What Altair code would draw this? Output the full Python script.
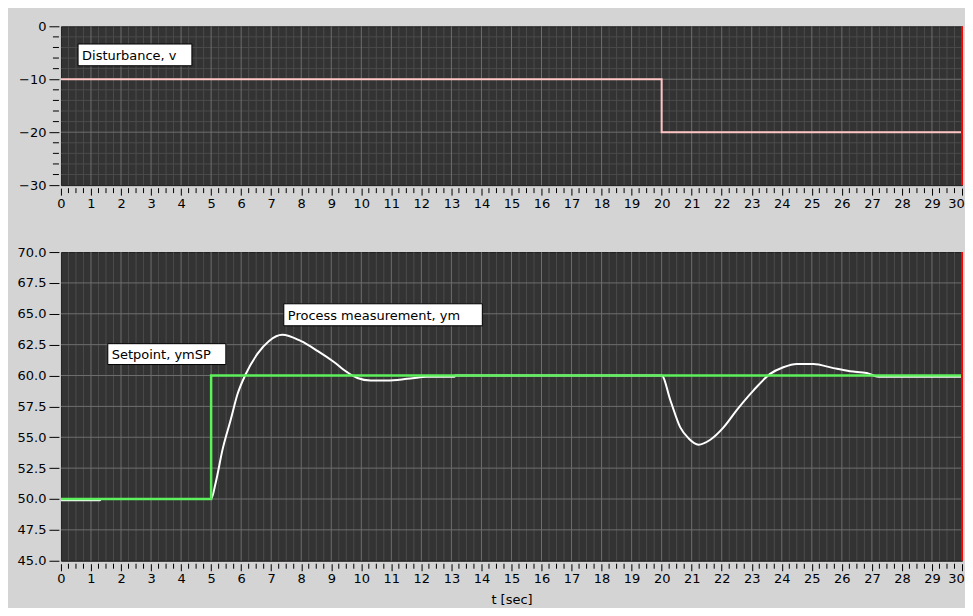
import altair as alt
import pandas as pd

# ---------------- data ----------------
dist_t = [0, 20, 20, 30]
dist_v = [-10, -10, -20, -20]

sp_t = [0, 5, 5, 30]
sp_v = [50, 50, 60, 60]

ym_t = [0, 1.3, 1.33, 5.0, 5.15, 5.38, 5.65, 5.88, 6.15, 6.54, 6.93, 7.37, 7.98, 8.54,
        9.09, 9.53, 9.87, 10.31, 10.86, 11.53, 12.19, 13.1, 13.13, 20.0, 20.29, 20.62,
        20.9, 21.23, 21.62, 22.06, 22.5, 23.06, 23.61, 24.05, 24.5, 25.05, 25.72, 26.27,
        26.83, 27.22, 30]
ym_v = [49.9, 49.9, 50.0, 50.0, 51.3, 54.0, 56.4, 58.5, 60.1, 61.75, 62.8, 63.3, 62.8, 62.0,
        61.1, 60.27, 59.8, 59.6, 59.6, 59.73, 59.9, 59.9, 60.0, 60.0, 58.0, 55.8,
        54.9, 54.4, 54.8, 55.8, 57.2, 58.8, 60.13, 60.67, 60.94, 60.94, 60.6, 60.35,
        60.2, 59.9, 59.9]

x_major = list(range(0, 31))
x_minor = [i / 4 for i in range(0, 121) if i % 4]
x_major_grid = list(range(1, 30))

top_major = [0, -10, -20, -30]
top_minor = [v for v in range(-28, 0, 2) if v % 10]
top_major_grid = [-10, -20]

bot_major = [45.0, 47.5, 50.0, 52.5, 55.0, 57.5, 60.0, 62.5, 65.0, 67.5, 70.0]
bot_major_grid = [47.5, 50.0, 52.5, 55.0, 57.5, 60.0, 62.5, 65.0, 67.5]

top_labels = ["Disturbance, v"]
top_lab_x1 = [0.57]
top_lab_x2 = [4.36]
top_lab_y1 = [-3.35]
top_lab_y2 = [-7.45]

bot_labels = ["Setpoint, ymSP", "Process measurement, ym"]
bot_lab_x1 = [1.56, 7.42]
bot_lab_x2 = [5.49, 14.03]
bot_lab_y1 = [62.58, 65.81]
bot_lab_y2 = [60.89, 64.03]

cursor_t = [30]

# ---------------- style ----------------
W = 902
H_TOP = 159
H_BOT = 309
BG = "#d4d4d4"
PLOT_BG = "#333333"
MAJOR = "#6e6e6e"
MINOR = "#4b4b4b"
FONT = "DejaVu Sans"


def panel(h, ydomain, ymajor, yfmt, yminor, ymajor_grid, series, lab_text, lx1, lx2, ly1, ly2, xtitle):
    xs = alt.Scale(domain=[0, 30], nice=False, zero=False)
    ys = alt.Scale(domain=ydomain, nice=False, zero=False)
    xaxis_kw = dict(values=x_major, format="d", offset=3, tickSize=7, labelPadding=2,
                    grid=False, domain=False, labelFlush=False,
                    labelOffset={"condition": {"test": "datum.value >= 30", "value": -6},
                                 "value": 0})
    if xtitle:
        xaxis_kw.update(title=xtitle, titlePadding=8)
    else:
        xaxis_kw.update(title=None)
    XA = alt.Axis(**xaxis_kw)
    YA = alt.Axis(values=ymajor, format=yfmt, offset=2, tickSize=10, labelPadding=3,
                  grid=False, domain=False, title=None, labelFlush=False,
                  minExtent=50, maxExtent=50)

    layers = []
    layers.append(alt.Chart(pd.DataFrame({"x": x_minor})).mark_rule(color=MINOR, strokeWidth=1)
                  .encode(x=alt.X("x:Q", scale=xs, axis=XA)))
    if yminor:
        layers.append(alt.Chart(pd.DataFrame({"y": yminor})).mark_rule(color=MINOR, strokeWidth=1)
                      .encode(y=alt.Y("y:Q", scale=ys, axis=YA)))
    layers.append(alt.Chart(pd.DataFrame({"x": x_major_grid})).mark_rule(color=MAJOR, strokeWidth=1)
                  .encode(x=alt.X("x:Q", scale=xs, axis=XA)))
    layers.append(alt.Chart(pd.DataFrame({"y": ymajor_grid})).mark_rule(color=MAJOR, strokeWidth=1)
                  .encode(y=alt.Y("y:Q", scale=ys, axis=YA)))
    layers.append(alt.Chart(pd.DataFrame({"x": x_minor})).mark_rule(color="black", strokeWidth=1)
                  .encode(x=alt.X("x:Q", scale=xs, axis=XA), y=alt.value(h + 3), y2=alt.value(h + 8)))
    if yminor:
        layers.append(alt.Chart(pd.DataFrame({"y": yminor})).mark_rule(color="black", strokeWidth=1)
                      .encode(y=alt.Y("y:Q", scale=ys, axis=YA), x=alt.value(-8), x2=alt.value(-2)))
    for (t, v, color, sw, interp) in series:
        df = pd.DataFrame({"t": t, "v": v, "i": list(range(len(t)))})
        layers.append(alt.Chart(df).mark_line(color=color, strokeWidth=sw, interpolate=interp, clip=True)
                      .encode(x=alt.X("t:Q", scale=xs, axis=XA),
                              y=alt.Y("v:Q", scale=ys, axis=YA),
                              order="i:Q"))
    layers.append(alt.Chart(pd.DataFrame({"x": cursor_t})).mark_rule(color="#ff0000", strokeWidth=2)
                  .encode(x=alt.X("x:Q", scale=xs, axis=XA)))
    ldf = pd.DataFrame({"txt": lab_text, "x1": lx1, "x2": lx2, "y1": ly1, "y2": ly2})
    ldf["ym"] = (ldf["y1"] + ldf["y2"]) / 2
    layers.append(alt.Chart(ldf).mark_rect(fill="white", stroke="black", strokeWidth=1)
                  .encode(x=alt.X("x1:Q", scale=xs, axis=XA), x2="x2:Q",
                          y=alt.Y("y1:Q", scale=ys, axis=YA), y2="y2:Q"))
    layers.append(alt.Chart(ldf).mark_text(align="left", baseline="middle", dx=4, dy=1,
                                           font=FONT, fontSize=13, color="black")
                  .encode(x=alt.X("x1:Q", scale=xs, axis=XA),
                          y=alt.Y("ym:Q", scale=ys, axis=YA), text="txt:N"))
    return alt.layer(*layers).properties(width=W, height=h)


top = panel(H_TOP, [-30, 0], top_major, "d", top_minor, top_major_grid,
            [(dist_t, dist_v, "#ffc4c4", 2, "linear")],
            top_labels, top_lab_x1, top_lab_x2, top_lab_y1, top_lab_y2, None)

bot = panel(H_BOT, [45, 70], bot_major, ".1f", [], bot_major_grid,
            [(ym_t, ym_v, "#ffffff", 2, "monotone"), (sp_t, sp_v, "#5cf05c", 2.5, "linear")],
            bot_labels, bot_lab_x1, bot_lab_x2, bot_lab_y1, bot_lab_y2, "t [sec]")

chart = (alt.vconcat(top, bot, spacing=67, bounds="flush")
         .properties(background=BG, padding={"left": 0, "top": 11, "right": 0, "bottom": 0})
         .configure(font=FONT)
         .configure_view(fill=PLOT_BG, stroke="#1e1e1e", strokeWidth=1)
         .configure_axis(labelFont=FONT, labelFontSize=13, labelColor="black",
                         tickColor="black", tickWidth=1, titleFont=FONT, titleFontSize=13,
                         titleFontWeight="normal", titleColor="black"))

chart.save("out.html", embed_options={"renderer": "svg", "actions": False})
